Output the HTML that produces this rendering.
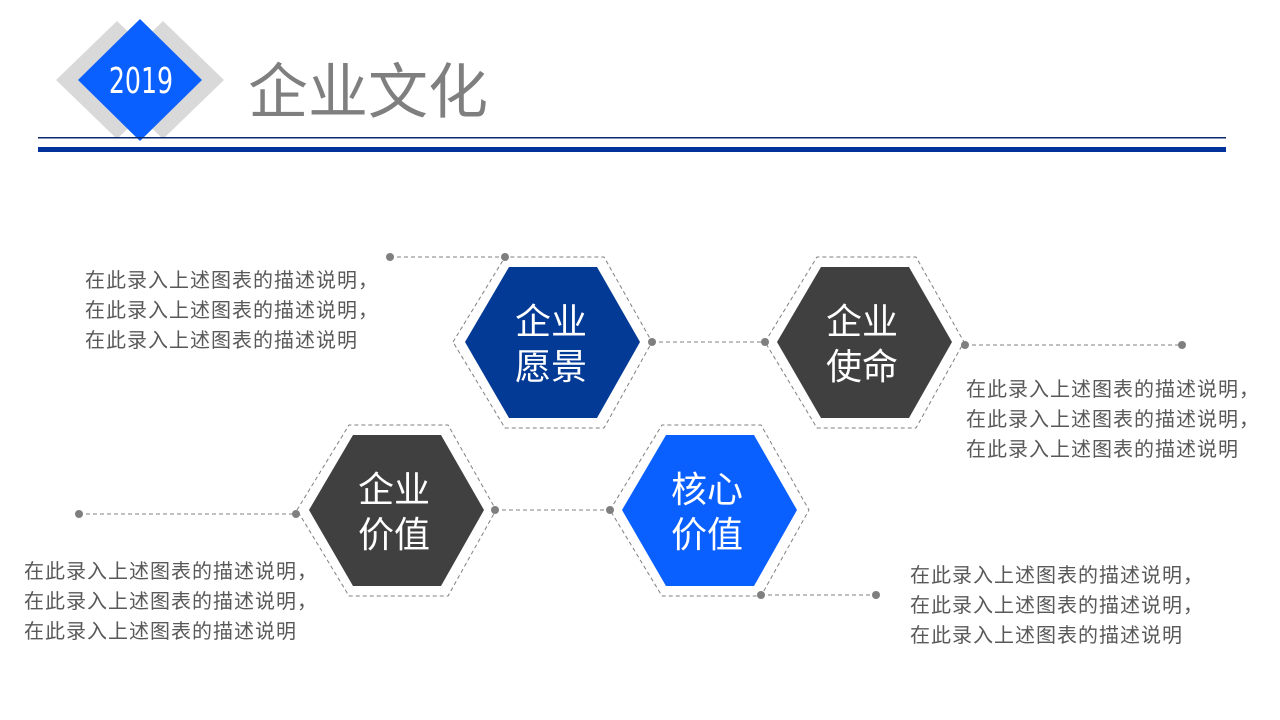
<!DOCTYPE html>
<html><head><meta charset="utf-8"><style>
body{margin:0;width:1280px;height:720px;background:#fff;overflow:hidden}
svg{display:block}
text{font-family:"Liberation Sans","Noto Sans CJK SC",sans-serif}
.d{fill:#595959;font-size:20px;letter-spacing:1px;font-family:"Noto Sans CJK SC",sans-serif}
.h{fill:#fff;font-size:36px}
.ln{stroke:#808080;stroke-width:1;stroke-dasharray:4 3;fill:none}
.dot{fill:#7f7f7f}
</style></head><body>
<svg width="1280" height="720" viewBox="0 0 1280 720">
<polygon points="117,21 178,80 117,139 56,80" fill="#d9d9d9"/>
<polygon points="163,21 224,80 163,139 102,80" fill="#d9d9d9"/>
<polygon points="140,19 202,80 140,141 78,80" fill="#0a5fff"/>
<text x="141" y="93" text-anchor="middle" fill="#fff" font-size="36" style="font-family:'Liberation Sans Narrow','DejaVu Sans Condensed',sans-serif" transform="translate(141 0) scale(0.78 1) translate(-141 0)">2019</text>
<text x="248" y="113" fill="#7f7f7f" font-size="60">企业文化</text>
<rect x="38" y="137" width="1188" height="1.5" fill="#0b2a6e"/>
<rect x="38" y="147" width="1188" height="5" fill="#003399"/>

<polygon class="ln" points="453,342 505,257 604,257 652,342 604,428 505,428"/>
<polygon points="465,342 509,267 597,267 640,342 597,418 509,418" fill="#033a96"/>
<polygon class="ln" points="765,342 817,257 916,257 964,342 916,428 817,428"/>
<polygon points="777,342 821,267 909,267 952,342 909,418 821,418" fill="#404040"/>
<polygon class="ln" points="297,510 349,425 448,425 496,510 448,596 349,596"/>
<polygon points="309,510 353,435 441,435 484,510 441,586 353,586" fill="#404040"/>
<polygon class="ln" points="610,510 662,425 761,425 809,510 761,596 662,596"/>
<polygon points="622,510 666,435 754,435 797,510 754,586 666,586" fill="#0a5fff"/>

<text class="h" x="551" y="334" text-anchor="middle">企业</text>
<text class="h" x="551" y="379" text-anchor="middle">愿景</text>
<text class="h" x="862" y="334" text-anchor="middle">企业</text>
<text class="h" x="862" y="379" text-anchor="middle">使命</text>
<text class="h" x="394" y="502" text-anchor="middle">企业</text>
<text class="h" x="394" y="547" text-anchor="middle">价值</text>
<text class="h" x="707" y="502" text-anchor="middle">核心</text>
<text class="h" x="707" y="547" text-anchor="middle">价值</text>

<line class="ln" x1="390" y1="257" x2="505" y2="257"/>
<circle class="dot" cx="390" cy="257" r="4"/><circle class="dot" cx="505" cy="257" r="4"/>
<line class="ln" x1="652" y1="342" x2="765" y2="342"/>
<circle class="dot" cx="652" cy="342" r="4"/><circle class="dot" cx="765" cy="342" r="4"/>
<line class="ln" x1="965" y1="345" x2="1182" y2="345"/>
<circle class="dot" cx="965" cy="345" r="4"/><circle class="dot" cx="1182" cy="345" r="4"/>
<line class="ln" x1="79" y1="514" x2="296" y2="514"/>
<circle class="dot" cx="79" cy="514" r="4"/><circle class="dot" cx="296" cy="514" r="4"/>
<line class="ln" x1="495" y1="510" x2="610" y2="510"/>
<circle class="dot" cx="495" cy="510" r="4"/><circle class="dot" cx="610" cy="510" r="4"/>
<line class="ln" x1="761" y1="595" x2="876" y2="595"/>
<circle class="dot" cx="761" cy="595" r="4"/><circle class="dot" cx="876" cy="595" r="4"/>

<text class="d" x="85" y="287">在此录入上述图表的描述说明，</text>
<text class="d" x="85" y="317">在此录入上述图表的描述说明，</text>
<text class="d" x="85" y="347">在此录入上述图表的描述说明</text>
<text class="d" x="966" y="396">在此录入上述图表的描述说明，</text>
<text class="d" x="966" y="426">在此录入上述图表的描述说明，</text>
<text class="d" x="966" y="456">在此录入上述图表的描述说明</text>
<text class="d" x="24" y="578">在此录入上述图表的描述说明，</text>
<text class="d" x="24" y="608">在此录入上述图表的描述说明，</text>
<text class="d" x="24" y="638">在此录入上述图表的描述说明</text>
<text class="d" x="910" y="582">在此录入上述图表的描述说明，</text>
<text class="d" x="910" y="612">在此录入上述图表的描述说明，</text>
<text class="d" x="910" y="642">在此录入上述图表的描述说明</text>
</svg>
</body></html>
